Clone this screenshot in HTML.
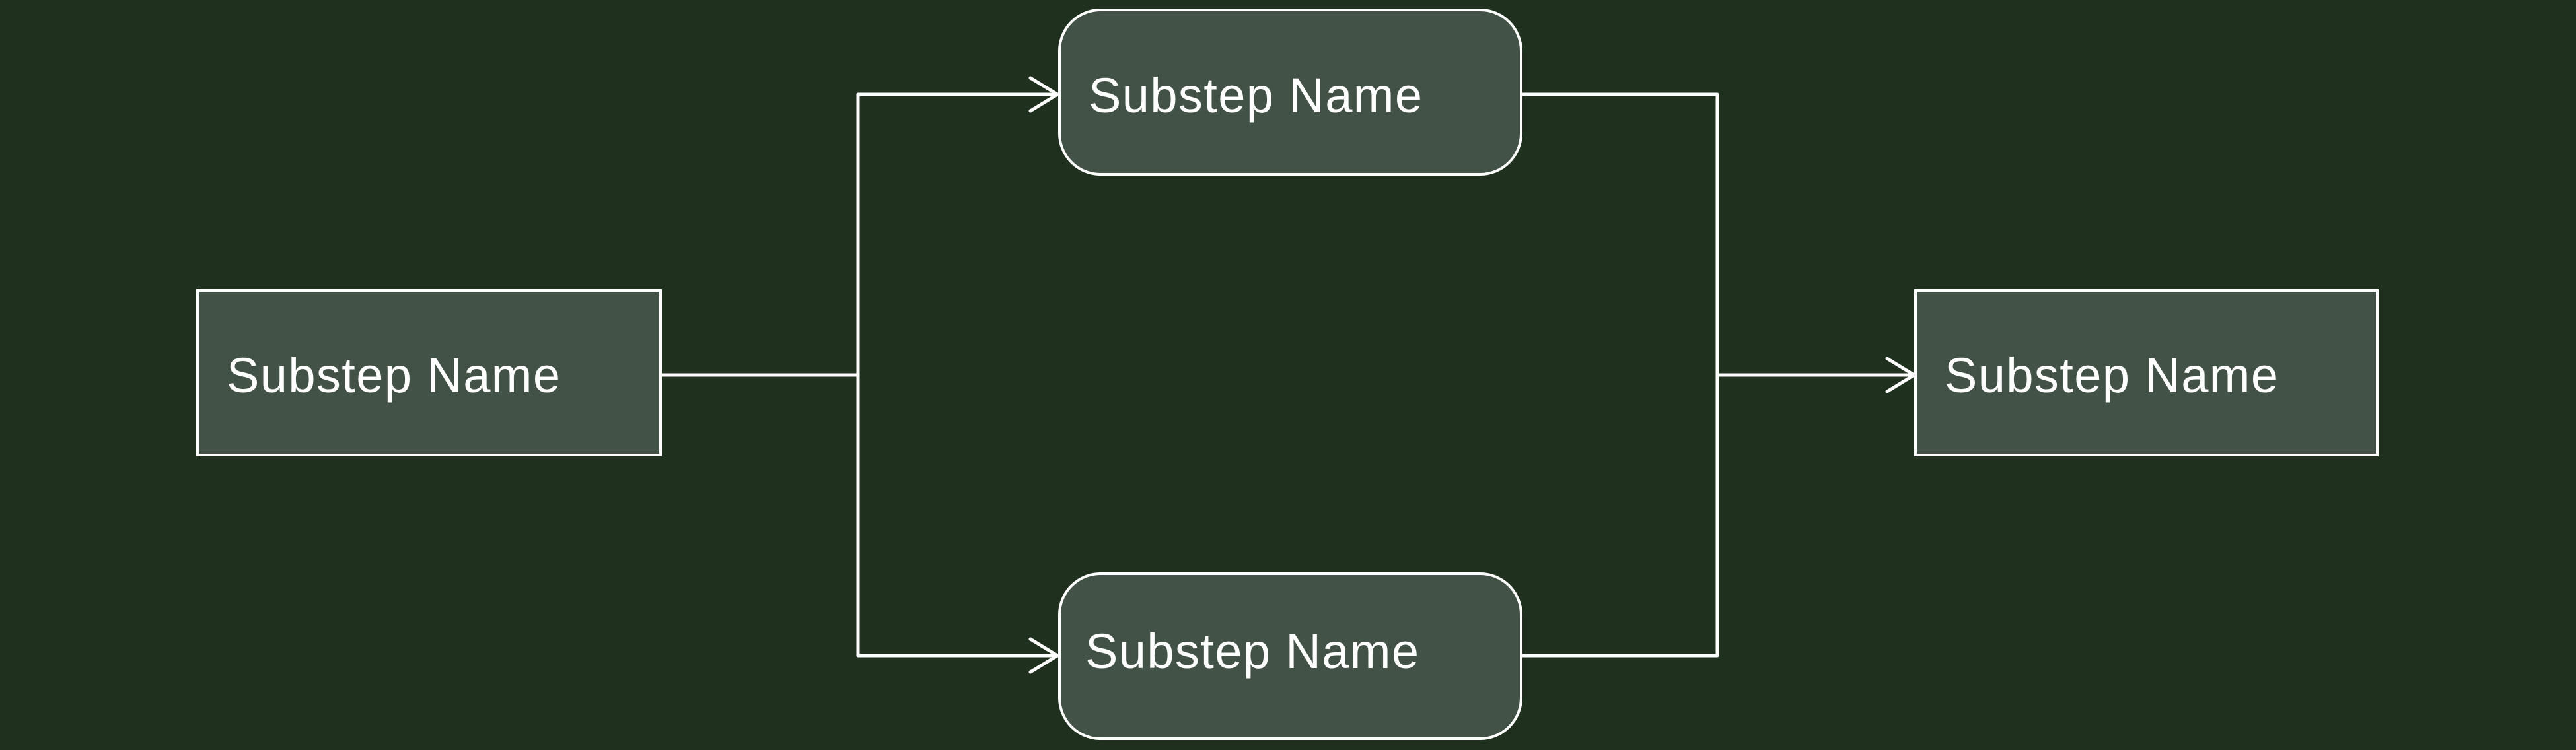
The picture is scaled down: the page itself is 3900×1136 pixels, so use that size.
<!DOCTYPE html>
<html><head><style>html,body{margin:0;padding:0;background:#1f301f;}svg{display:block}</style></head>
<body>
<svg width="3900" height="1136" viewBox="0 0 3900 1136" xmlns="http://www.w3.org/2000/svg">
<rect width="3900" height="1136" fill="#1f301f"/>
<g fill="none" stroke="#fff" stroke-width="5" stroke-linecap="round" stroke-linejoin="round">
<path d="M1000 568 H1299 M1299 143 V993 M1299 143 H1600 M1299 993 H1600"/>
<path d="M1560 118 L1601 143 L1560 168 M1560 968 L1601 993 L1560 1018"/>
<path d="M2304 143 H2600 M2304 993 H2600 M2600 143 V993 M2600 568 H2898"/>
<path d="M2857 543 L2898 568 L2857 593"/>
</g>
<g fill="#435246" stroke="#fff" stroke-width="4">
<rect x="299" y="440" width="701" height="249"/>
<rect x="2900" y="440" width="699" height="249"/>
<rect x="1604" y="15" width="699" height="249" rx="62"/>
<rect x="1604" y="869" width="699" height="250" rx="62"/>
</g>
<g fill="#fff" font-family="Liberation Sans, sans-serif" font-size="74">
<text x="343" y="594" textLength="505">Substep Name</text>
<text x="1648" y="170" textLength="505">Substep Name</text>
<text x="1643" y="1012" textLength="505">Substep Name</text>
<text x="2944" y="594" textLength="505">Substep Name</text>
</g>
</svg>
</body></html>
